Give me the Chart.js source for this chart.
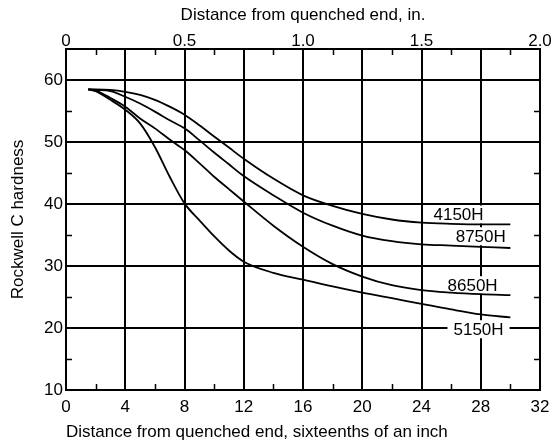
<!DOCTYPE html>
<html>
<head>
<meta charset="utf-8">
<script src="https://cdn.jsdelivr.net/npm/chart.js@4"></script>
<style>
  html, body { margin: 0; padding: 0; background: #fff; }
  #wrap { width: 558px; height: 447px; }
</style>
</head>
<body>
<div id="wrap"><canvas id="myChart" width="558" height="447"></canvas></div>
<script>
// distance from quenched end, sixteenths of an inch
const distance = [1.5, 2, 3, 4, 5, 6, 7, 8, 9, 10, 11, 12, 14, 16, 18, 20, 22, 24, 26, 28, 30];

// Rockwell C hardness for each steel
const hrc4150 = [58.5, 58.5, 58.4, 58.1, 57.6, 56.8, 55.7, 54.4, 52.7, 50.9, 49.1, 47.3, 44.1, 41.4, 39.7, 38.4, 37.5, 37.0, 36.8, 36.7, 36.7];
const hrc8750 = [58.5, 58.4, 58.2, 57.3, 56.2, 54.9, 53.5, 52.2, 50.3, 48.3, 46.4, 44.5, 41.4, 38.6, 36.5, 34.9, 34.0, 33.5, 33.3, 33.1, 32.9];
const hrc8650 = [58.5, 58.3, 57.1, 55.7, 53.8, 52.2, 50.4, 48.7, 46.6, 44.4, 42.4, 40.4, 36.5, 33.1, 30.3, 28.3, 26.9, 26.1, 25.7, 25.45, 25.3];
const hrc5150 = [58.5, 58.2, 56.8, 55.2, 53.0, 49.2, 44.4, 40.1, 37.4, 34.8, 32.5, 30.7, 28.9, 27.8, 26.7, 25.7, 24.8, 23.9, 23.0, 22.2, 21.7];

const steelNames = ['4150H', '8750H', '8650H', '5150H'];
const steelValues = [hrc4150, hrc8750, hrc8650, hrc5150];

// tick labels
const xTicks = [0, 4, 8, 12, 16, 20, 24, 28, 32];
const inchTicks = [0, 0.5, 1.0, 1.5, 2.0];
const inchLabels = ['0', '0.5', '1.0', '1.5', '2.0'];
const yTicks = [10, 20, 30, 40, 50, 60];
const xMinor = [2, 6, 10, 14, 18, 22, 26, 30];
const yMinor = [15, 25, 35, 45, 55];

const FONT = '"Liberation Sans", Arial, Helvetica, sans-serif';

function toPoints(values) {
    return distance.map((d, i) => ({ x: d, y: values[i] }));
}

// white-backed curve names, drawn under the curves but over the grid
const curveLabels = {
    id: 'curveLabels',
    beforeDatasetsDraw(chart) {
        const ctx = chart.ctx;
        const xs = chart.scales.x, ys = chart.scales.y;
        const spots = [[26.5, 38.3], [28.0, 34.8], [27.45, 26.9], [27.85, 19.8]];
        ctx.save();
        ctx.font = '17px ' + FONT;
        ctx.textAlign = 'center';
        ctx.textBaseline = 'middle';
        steelNames.forEach((name, i) => {
            let px = xs.getPixelForValue(spots[i][0]);
            let py = ys.getPixelForValue(spots[i][1]);
            let w = ctx.measureText(name).width;
            ctx.fillStyle = '#fff';
            ctx.fillRect(px - w / 2 - 6, py - 9, w + 12, 18);
            ctx.fillStyle = '#000';
            ctx.fillText(name, px, py + 1);
        });
        ctx.restore();
    }
};

// frame and small inside ticks
const frameTicks = {
    id: 'frameTicks',
    afterDatasetsDraw(chart) {
        const ctx = chart.ctx;
        const a = chart.chartArea;
        const xs = chart.scales.x, ys = chart.scales.y;
        ctx.save();
        ctx.strokeStyle = '#000';
        ctx.lineWidth = 2;
        ctx.strokeRect(a.left, a.top, a.right - a.left, a.bottom - a.top);
        ctx.lineWidth = 1.5;
        ctx.beginPath();
        xMinor.forEach(v => {
            let px = Math.round(xs.getPixelForValue(v)) + 0.5;
            ctx.moveTo(px, a.top); ctx.lineTo(px, a.top + 6);
            ctx.moveTo(px, a.bottom); ctx.lineTo(px, a.bottom - 6);
        });
        yMinor.forEach(v => {
            let py = Math.round(ys.getPixelForValue(v)) + 0.5;
            ctx.moveTo(a.left, py); ctx.lineTo(a.left + 6, py);
            ctx.moveTo(a.right, py); ctx.lineTo(a.right - 6, py);
        });
        ctx.stroke();
        ctx.restore();
    }
};

let ctx = document.getElementById('myChart').getContext('2d');

let myChart = new Chart(ctx, {
    type: 'line',
    data: {
        datasets: steelNames.map((name, i) => ({
            label: name,
            data: toPoints(steelValues[i]),
            borderColor: '#000',
            borderWidth: 1.8,
            pointRadius: 0,
            fill: false,
            cubicInterpolationMode: 'monotone'
        }))
    },
    options: {
        responsive: false,
        animation: false,
        layout: { padding: { left: 8, right: 18, top: 4, bottom: 4 } },
        plugins: {
            legend: { display: false },
            tooltip: { enabled: false }
        },
        scales: {
            x: {
                type: 'linear',
                position: 'bottom',
                min: 0,
                max: 32,
                afterBuildTicks: s => { s.ticks = xTicks.map(v => ({ value: v })); },
                afterFit: s => { s.height = 53; },
                ticks: { color: '#000', font: { family: FONT, size: 17 }, padding: 7, maxRotation: 0 },
                grid: { color: '#000', lineWidth: 2, drawTicks: false },
                border: { color: '#000', width: 2 },
                title: {
                    display: true,
                    text: 'Distance from quenched end, sixteenths of an inch',
                    color: '#000',
                    align: 'start',
                    font: { family: FONT, size: 17 },
                    padding: { top: 4, bottom: 0 }
                }
            },
            x2: {
                type: 'linear',
                position: 'top',
                min: 0,
                max: 2,
                afterBuildTicks: s => { s.ticks = inchTicks.map(v => ({ value: v })); },
                afterFit: s => { s.height = 45; },
                ticks: {
                    color: '#000',
                    font: { family: FONT, size: 17 },
                    padding: -3,
                    maxRotation: 0,
                    callback: (v, i) => inchLabels[i]
                },
                grid: { display: false, drawTicks: false },
                border: { color: '#000', width: 2 },
                title: {
                    display: true,
                    text: 'Distance from quenched end, in.',
                    color: '#000',
                    font: { family: FONT, size: 17 },
                    padding: { top: 1, bottom: 4 }
                }
            },
            y: {
                type: 'linear',
                min: 10,
                max: 65,
                afterBuildTicks: s => { s.ticks = yTicks.map(v => ({ value: v })); },
                afterFit: s => { s.width = 58; },
                ticks: { color: '#000', font: { family: FONT, size: 17 }, padding: 3 },
                grid: { color: '#000', lineWidth: 2, drawTicks: false },
                border: { color: '#000', width: 2 },
                title: {
                    display: true,
                    text: 'Rockwell C hardness',
                    color: '#000',
                    font: { family: FONT, size: 17 },
                    padding: { top: 0, bottom: 4 }
                }
            }
        }
    },
    plugins: [curveLabels, frameTicks]
});
</script>
</body>
</html>
